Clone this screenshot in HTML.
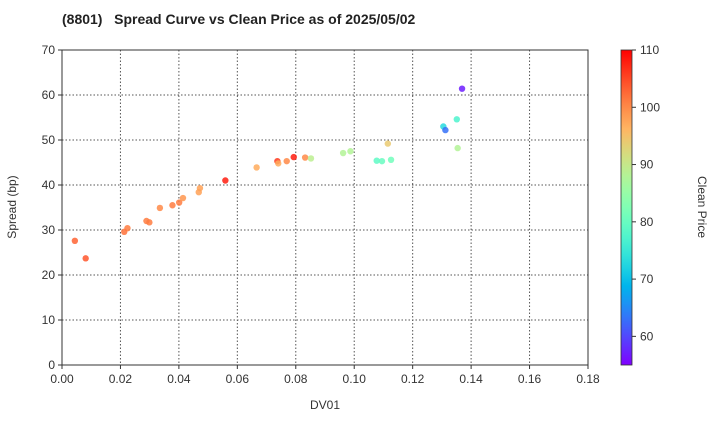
<!DOCTYPE html>
<html><head><meta charset="utf-8"><style>body{margin:0;background:#fff}svg{font-family:"Liberation Sans",sans-serif}</style></head>
<body>
<svg id="chart" width="720" height="420">
<defs><linearGradient id="cbg" x1="0" y1="1" x2="0" y2="0"></linearGradient></defs>
<text x="62" y="24" font-size="14" font-weight="bold" fill="#222" xml:space="preserve">(8801)   Spread Curve vs Clean Price as of 2025/05/02</text>
<g id="grid"></g><g id="axes"></g><g id="pts"></g><g id="cb"></g>
<text x="325" y="409" font-size="12" text-anchor="middle" fill="#333">DV01</text>
<text transform="translate(16,207) rotate(-90)" font-size="12" text-anchor="middle" fill="#333">Spread (bp)</text>
<text transform="translate(698,207) rotate(90)" font-size="12" text-anchor="middle" fill="#333">Clean Price</text>
</svg>
<script>
const dv01=[0.0044,0.0081,0.0213,0.0224,0.0289,0.0299,0.0335,0.0378,0.0401,0.0414,0.0468,0.0472,0.0559,0.0666,0.0737,0.0740,0.0769,0.0793,0.0832,0.0852,0.0962,0.0987,0.1077,0.1095,0.1126,0.1115,0.1305,0.1312,0.1351,0.1354,0.1369];
const spread=[27.6,23.7,29.6,30.4,32.0,31.7,34.9,35.5,36.1,37.1,38.4,39.3,41.0,43.9,45.3,44.8,45.3,46.2,46.1,45.9,47.1,47.5,45.4,45.3,45.6,49.2,53.0,52.2,54.6,48.2,61.4];
const price=[103,104,102,101,101,101,100,101,101,99,98,98,108,97,106,97,100,108,100,89,88,88,79,80,81,94,73,63,77,88,57];
const xTicks=[0,0.02,0.04,0.06,0.08,0.10,0.12,0.14,0.16,0.18];
const xTickLabels=["0.00","0.02","0.04","0.06","0.08","0.10","0.12","0.14","0.16","0.18"];
const yTicks=[0,10,20,30,40,50,60,70];
const cTicks=[60,70,80,90,100,110];
const X0=62,X1=588,Y0=365,Y1=50,CMIN=55,CMAX=110;
const sx=v=>X0+(v-0)/(0.18)*(X1-X0);
const sy=v=>Y0-(v/70)*(Y0-Y1);
const sc=v=>Y0-(v-CMIN)/(CMAX-CMIN)*(Y0-Y1);
function rainbow(t){t=Math.max(0,Math.min(1,t));const r=Math.min(1,Math.abs(2*t-0.5)),g=Math.sin(Math.PI*t),b=Math.cos(Math.PI*t/2);return `rgb(${Math.round(r*255)},${Math.round(g*255)},${Math.round(b*255)})`;}
const NS="http://www.w3.org/2000/svg";
function mk(tag,attrs,parent,txt){const e=document.createElementNS(NS,tag);for(const k in attrs)e.setAttribute(k,attrs[k]);if(txt!==undefined)e.textContent=txt;document.getElementById(parent).appendChild(e);return e;}
xTicks.forEach((v,i)=>{const x=sx(v);
 if(i>0&&i<xTicks.length-1){const l=mk('line',{x1:x,x2:x,y1:Y1,y2:Y0,stroke:'#555','stroke-dasharray':'1.5,2','stroke-width':1},'grid');}
 const t=mk('line',{x1:x,x2:x,y1:Y0,y2:Y0+4,stroke:'#333'},'axes');
 const tl=mk('text',{x:x,y:Y0+18,'font-size':12,'text-anchor':'middle',fill:'#333'},'axes',xTickLabels[i]);});
yTicks.forEach(v=>{const y=sy(v);
 if(v>0&&v<70){const l=mk('line',{x1:X0,x2:X1,y1:y,y2:y,stroke:'#555','stroke-dasharray':'1.5,2','stroke-width':1},'grid');}
 const t=mk('line',{x1:X0-4,x2:X0,y1:y,y2:y,stroke:'#333'},'axes');
 const tl=mk('text',{x:X0-7,y:y+4,'font-size':12,'text-anchor':'end',fill:'#333'},'axes',String(v));});
const fr=mk('rect',{x:X0,y:Y1,width:X1-X0,height:Y0-Y1,fill:'none',stroke:'#333'},'axes');

dv01.forEach((d,i)=>{const c=mk('circle',{cx:sx(d),cy:sy(spread[i]),r:3.2,fill:rainbow((price[i]-CMIN)/(CMAX-CMIN)),'fill-opacity':0.85},'pts');
 });
const g=document.getElementById('cbg');
for(let i=0;i<=20;i++){const s=document.createElementNS(NS,'stop');s.setAttribute('offset',i/20);s.setAttribute('stop-color',rainbow(i/20));g.appendChild(s);}
const cb=mk('rect',{x:621,y:Y1,width:11,height:Y0-Y1,fill:'url(#cbg)',stroke:'#333','stroke-width':0.8},'cb');

cTicks.forEach(v=>{const y=sc(v);
 const t=mk('line',{x1:632,x2:636,y1:y,y2:y,stroke:'#333'},'cb');
 const tl=mk('text',{x:640,y:y+4,'font-size':12,fill:'#333'},'cb',String(v));});
</script>
</body></html>
